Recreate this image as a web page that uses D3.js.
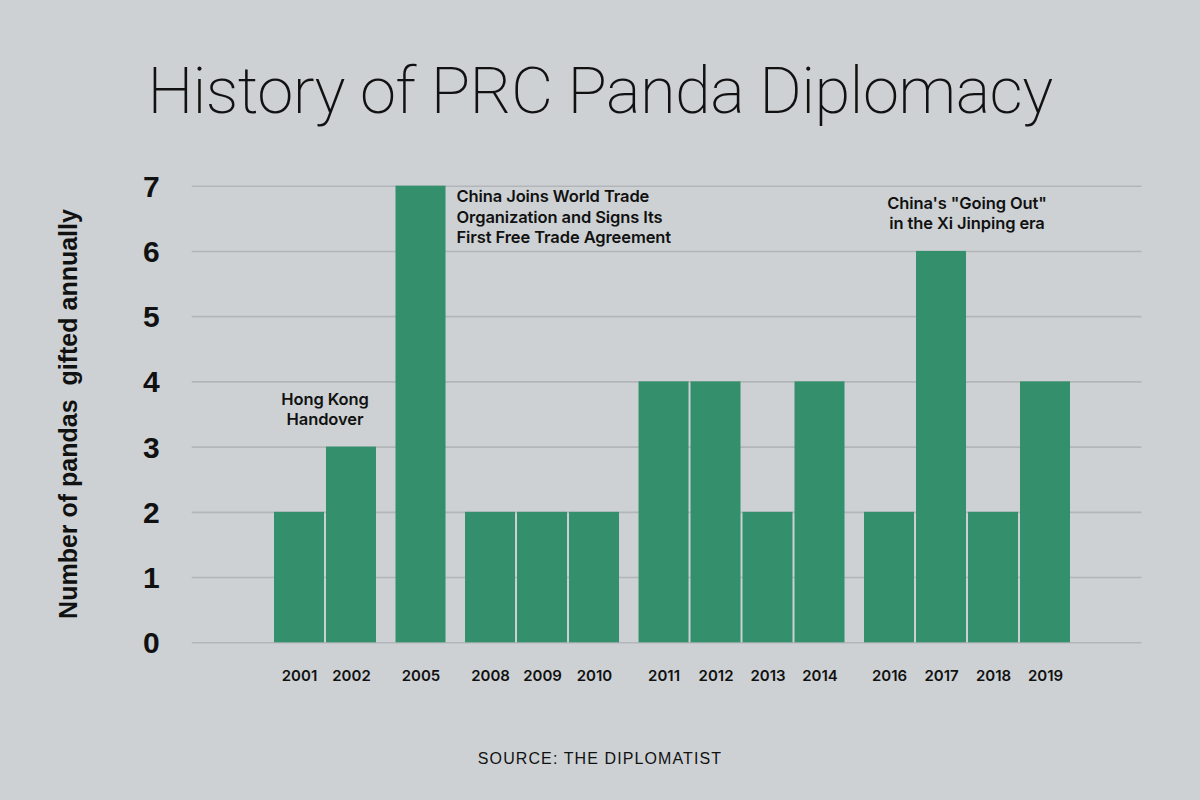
<!DOCTYPE html>
<html>
<head>
<meta charset="utf-8">
<script src="https://cdn.jsdelivr.net/npm/d3@7"></script>
<style>
  body { margin: 0; background: #cdd1d4; }
  svg { display: block; }
</style>
</head>
<body>
<div id="chart"></div>
<script>
const years = ['2001', '2002', '2005', '2008', '2009', '2010', '2011', '2012', '2013', '2014', '2016', '2017', '2018', '2019'];
const pandas = [2, 3, 7, 2, 2, 2, 4, 4, 2, 4, 2, 6, 2, 4];
const era = [0, 0, 1, 2, 2, 2, 3, 3, 3, 3, 4, 4, 4, 4];
const yTicks = [0, 1, 2, 3, 4, 5, 6, 7];

const notes = [
  { era: 0, lines: ['Hong Kong', 'Handover'] },
  { era: 1, lines: ['China Joins World Trade', 'Organization and Signs Its', 'First Free Trade Agreement'] },
  { era: 4, lines: ['China\'s "Going Out"', 'in the Xi Jinping era'] }
];

const width = 1200, height = 800;
const gap = 0.337; // extra space between eras, in bar slots
const labelFont = '600 16.5px Inter, "Liberation Sans", sans-serif';

const bars = years.map((yr, i) => ({ year: yr, value: pandas[i], era: era[i], slot: i + era[i] * gap }));
const nSlots = years.length + d3.max(era) * gap;

const x = d3.scaleLinear().domain([0, nSlots]).range([274, 1072]);
const step = x(1) - x(0);
const barW = step - 2;
const y = d3.scaleLinear().domain([0, 7]).range([642.3, 185.7]);

const svg = d3.select('#chart').append('svg')
    .attr('width', width)
    .attr('height', height)
    .style('background', '#cdd1d4');

// title
svg.append('text')
    .attr('x', 600)
    .attr('y', 112.7)
    .attr('text-anchor', 'middle')
    .style('font', '200 65px Roboto, sans-serif')
    .style('letter-spacing', '-0.6px')
    .attr('fill', '#111')
    .text('History of PRC Panda Diplomacy');

// y axis + grid
const gridLeft = 191.7, gridRight = 1141.5;
const yAxis = svg.append('g')
    .attr('transform', `translate(${gridLeft},0)`)
    .call(d3.axisLeft(y).tickValues(yTicks).tickSize(-(gridRight - gridLeft)).tickFormat(d3.format('d')));
yAxis.select('.domain').remove();
yAxis.selectAll('.tick line')
    .attr('stroke', '#b3b6b9')
    .attr('stroke-width', 1.6);
yAxis.selectAll('.tick text')
    .attr('x', -32)
    .attr('dy', '0.35em')
    .attr('text-anchor', 'end')
    .attr('fill', '#111')
    .style('font', 'bold 30px "Liberation Sans", Arial, sans-serif');

svg.append('text')
    .attr('transform', 'translate(77,414) rotate(-90)')
    .attr('text-anchor', 'middle')
    .attr('fill', '#111')
    .style('font', 'bold 25px "Liberation Sans", Arial, sans-serif')
    .style('white-space', 'pre')
    .text('Number of pandas  gifted annually');

// bars
svg.append('g')
  .selectAll('rect')
  .data(bars)
  .join('rect')
    .attr('x', d => x(d.slot))
    .attr('y', d => y(d.value))
    .attr('width', barW)
    .attr('height', d => y(0) - y(d.value))
    .attr('fill', '#338f6c');

// year labels
const xAxis = svg.append('g')
    .attr('transform', `translate(0,${y(0)})`)
    .call(d3.axisBottom(x)
      .tickValues(bars.map(d => d.slot + barW / step / 2))
      .tickFormat((d, i) => bars[i].year)
      .tickSize(0)
      .tickPadding(28));
xAxis.select('.domain').remove();
xAxis.selectAll('.tick text')
    .attr('fill', '#111')
    .style('font', '600 15px Inter, "Liberation Sans", sans-serif');

// annotations
const eraSpan = e => {
  const b = bars.filter(d => d.era === e);
  return [x(b[0].slot), x(b[b.length - 1].slot) + barW, d3.max(b, d => d.value)];
};

const noteText = (n, xPos, y0, lh, anchor) => {
  const t = svg.append('text')
      .attr('text-anchor', anchor)
      .attr('fill', '#111')
      .style('font', labelFont)
      .style('letter-spacing', '-0.1px');
  n.lines.forEach((l, i) => {
    t.append('tspan').attr('x', xPos).attr('y', y0 + i * lh).text(l);
  });
};

let s = eraSpan(0);
noteText(notes[0], (s[0] + s[1]) / 2, y(s[2]) - 42, 20.7, 'middle');
s = eraSpan(1);
noteText(notes[1], s[1] + 11, y(s[2]) + 16, 20.8, 'start');
s = eraSpan(4);
noteText(notes[2], (s[0] + s[1]) / 2, y(7) + 23.6, 20, 'middle');

// source
svg.append('text')
    .attr('x', 600)
    .attr('y', 763.7)
    .attr('text-anchor', 'middle')
    .attr('fill', '#111')
    .style('font', '400 16px "Liberation Sans", Arial, sans-serif')
    .style('letter-spacing', '1.1px')
    .text('SOURCE: THE DIPLOMATIST');
</script>
</body>
</html>
